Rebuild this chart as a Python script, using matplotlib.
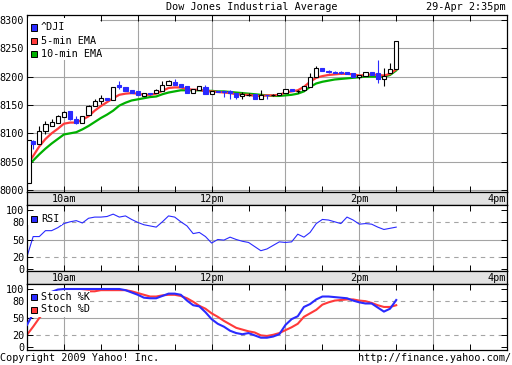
import numpy as np
import matplotlib.pyplot as plt
from matplotlib.patches import Rectangle

W, H = 512, 365
plt.rcParams['font.family'] = 'DejaVu Sans Mono'
plt.rcParams['font.size'] = 7.3

# 5-minute bars, minutes after 9:30
minutes = np.arange(0, 305, 5)

opens = [8013, 8087, 8081, 8105, 8113, 8118, 8128, 8139, 8126, 8118,
         8132, 8148, 8157, 8163, 8159, 8186, 8182, 8176, 8175, 8166,
         8170, 8172, 8175, 8186, 8190, 8187, 8183, 8172, 8176, 8181,
         8169, 8175, 8174, 8175, 8171, 8166, 8168, 8169, 8161, 8168,
         8168, 8168, 8171, 8178, 8175, 8176, 8182, 8199, 8216, 8209,
         8208, 8208, 8209, 8206, 8199, 8202, 8209, 8206, 8196, 8206,
         8213]
highs = [8088, 8088, 8113, 8122, 8125, 8132, 8139, 8139, 8131, 8131,
         8150, 8160, 8168, 8163, 8182, 8192, 8182, 8176, 8175, 8171,
         8172, 8179, 8193, 8194, 8196, 8187, 8183, 8179, 8183, 8185,
         8175, 8175, 8175, 8177, 8171, 8173, 8172, 8169, 8177, 8168,
         8169, 8171, 8178, 8178, 8177, 8184, 8206, 8218, 8216, 8211,
         8210, 8210, 8209, 8206, 8203, 8208, 8209, 8229, 8216, 8224,
         8263]
lows = [8013, 8072, 8081, 8099, 8113, 8118, 8128, 8123, 8116, 8118,
        8132, 8148, 8152, 8159, 8159, 8178, 8175, 8171, 8167, 8166,
        8168, 8172, 8175, 8186, 8185, 8181, 8172, 8172, 8176, 8169,
        8169, 8173, 8164, 8160, 8160, 8160, 8166, 8161, 8161, 8161,
        8166, 8168, 8171, 8175, 8172, 8174, 8182, 8199, 8210, 8206,
        8206, 8205, 8204, 8199, 8195, 8202, 8203, 8188, 8184, 8206,
        8213]
closes = [8088, 8081, 8105, 8116, 8120, 8130, 8137, 8125, 8118, 8131,
          8148, 8157, 8163, 8159, 8181, 8181, 8175, 8171, 8167, 8171,
          8169, 8176, 8186, 8192, 8185, 8181, 8172, 8179, 8183, 8169,
          8175, 8173, 8173, 8172, 8165, 8169, 8168, 8161, 8167, 8167,
          8168, 8171, 8178, 8175, 8175, 8184, 8199, 8216, 8210, 8208,
          8207, 8206, 8204, 8199, 8203, 8208, 8203, 8196, 8201, 8213,
          8263]
ema5 = [8045, 8060, 8077, 8090, 8100, 8108, 8117, 8119, 8119, 8124,
        8130, 8140, 8148, 8155, 8162, 8168, 8170, 8171, 8170, 8168,
        8168, 8170, 8175, 8180, 8181, 8181, 8178, 8177, 8177, 8174,
        8174, 8173, 8172, 8171, 8169, 8168, 8168, 8166, 8166, 8167,
        8167, 8168, 8172, 8174, 8176, 8182, 8191, 8198, 8201, 8203,
        8204, 8205, 8205, 8204, 8202, 8203, 8204, 8203, 8202, 8205,
        8213]
ema10 = [8042, 8052, 8063, 8073, 8082, 8090, 8098, 8100, 8102, 8107,
         8113, 8120, 8127, 8133, 8140, 8149, 8154, 8158, 8160, 8162,
         8164, 8165, 8169, 8172, 8174, 8176, 8176, 8176, 8176, 8175,
         8175, 8174, 8174, 8173, 8172, 8171, 8170, 8169, 8168, 8167,
         8166, 8166, 8167, 8168, 8170, 8174, 8182, 8188, 8191, 8193,
         8195, 8196, 8197, 8198, 8199, 8200, 8200, 8200, 8200, 8203,
         8211]
rsi = [21, 55, 55, 65, 65, 70, 77, 80, 82, 78,
       86, 88, 88, 89, 93, 88, 90, 84, 79, 75,
       73, 71, 80, 90, 88, 80, 73, 60, 62, 55,
       44, 50, 49, 54, 50, 47, 45, 38, 31, 34,
       40, 46, 45, 46, 59, 54, 62, 77, 84, 83,
       80, 77, 88, 83, 76, 77, 76, 71, 67, 69,
       71]
stoch_k = [38, 58, 75, 88, 95, 99, 100, 100, 100, 100,
           100, 100, 100, 100, 100, 100, 98, 94, 90, 85,
           84, 84, 88, 92, 92, 90, 80, 72, 70, 60,
           48, 40, 35, 28, 24, 22, 24, 20, 16, 16,
           18, 22, 38, 48, 53, 69, 74, 82, 87, 87,
           86, 85, 84, 80, 77, 75, 75, 68, 61, 66,
           81]
stoch_d = [21, 35, 50, 62, 75, 85, 90, 93, 94, 95,
           96, 96, 98, 98, 98, 98, 98, 96, 93, 90,
           87, 87, 89, 90, 90, 88, 84, 78, 71, 66,
           58, 52, 45, 39, 33, 30, 27, 25, 20, 19,
           21, 24, 29, 34, 40, 52, 58, 64, 73, 77,
           80, 81, 82, 82, 80, 79, 76, 72, 69, 69,
           72]

price_ticks = [8000, 8050, 8100, 8150, 8200, 8250, 8300]
ind_ticks = [0, 20, 50, 80, 100]
hours = [30, 90, 150, 210, 270, 330]
half_hours = [60, 120, 180, 240, 300, 360]
band_labels = [(30, '10am'), (150, '12pm'), (270, '2pm')]

BLUE = '#2a2aff'
RED = '#ff3a3a'
GREEN = '#00b000'
GRID = '#a4a4a4'


def px_rect(x0, y0, x1, y1):
    return [x0 / W, 1 - y1 / H, (x1 - x0) / W, (y1 - y0) / H]


def fig_box(x0, y0, x1, y1, **kw):
    fig.add_artist(Rectangle((x0 / W, 1 - y1 / H), (x1 - x0) / W,
                             (y1 - y0) / H, transform=fig.transFigure, **kw))


def legend(x, rows, box):
    fig_box(*box, facecolor='white', edgecolor='none', zorder=5)
    for y, color, label in rows:
        fig_box(x, y - 3, x + 6, y + 3, facecolor=color, edgecolor='black',
                lw=0.7, zorder=6)
        fig.text((x + 10) / W, 1 - y / H, label, va='center', ha='left',
                 zorder=7)


def setup(ax, ylim, yticks):
    ax.set_xlim(0, 390)
    ax.set_ylim(*ylim)
    ax.set_xticks(hours)
    ax.set_xticks(half_hours, minor=True)
    ax.set_xticklabels([])
    ax.set_yticks(yticks)
    ax.tick_params(which='both', direction='in', length=4, width=0.7,
                   top=True, bottom=True, left=True, right=True, pad=2)
    ax.tick_params(axis='y', labelsize=7.3)
    for x in hours:
        ax.axvline(x, color=GRID, lw=0.8, zorder=0)
    for s in ax.spines.values():
        s.set_linewidth(0.9)


def band(rect):
    b = fig.add_axes(rect)
    b.set_xlim(0, 390)
    b.set_ylim(0, 1)
    b.set_facecolor('#e2e2e2')
    b.set_xticks([])
    b.set_yticks([])
    for x, lab in band_labels:
        b.text(x, 0.45, lab, ha='center', va='center')
    b.text(389, 0.45, '4pm', ha='right', va='center')
    for s in b.spines.values():
        s.set_linewidth(0.9)


fig = plt.figure(figsize=(W / 100, H / 100), dpi=100)

# price panel
ax_p = fig.add_axes(px_rect(27, 15, 507, 192))
setup(ax_p, (7996.5, 8308.8), price_ticks)
for y in price_ticks:
    ax_p.axhline(y, color=GRID, lw=0.8, zorder=0)

ax_p.plot(minutes, ema10, color=GREEN, lw=1.6, zorder=2)
ax_p.plot(minutes, ema5, color=RED, lw=1.6, zorder=2)

o = np.array(opens)
c = np.array(closes)
w = 3.4
up = c > o
down = c < o
flat = c == o
lefts = np.maximum(minutes - w / 2, 0)
body_lo = np.minimum(o, c)
body_h = np.maximum(np.abs(c - o), 1.5)

ax_p.vlines(minutes[up | flat], np.array(lows)[up | flat],
            np.array(highs)[up | flat], color='black', lw=0.8, zorder=3)
ax_p.vlines(minutes[down], np.array(lows)[down], np.array(highs)[down],
            color=BLUE, lw=0.8, zorder=3)
ax_p.bar(lefts[up], body_h[up], width=w, bottom=body_lo[up], align='edge',
         facecolor='white', edgecolor='black', lw=0.8, zorder=4)
ax_p.bar(lefts[down], body_h[down], width=w, bottom=body_lo[down],
         align='edge', facecolor=BLUE, edgecolor=BLUE, lw=0.8, zorder=4)
ax_p.hlines(c[flat], lefts[flat], lefts[flat] + w, color='black', lw=0.9,
            zorder=4)

band(px_rect(27, 192, 507, 205))

# RSI panel
ax_r = fig.add_axes(px_rect(27, 205, 507, 271))
setup(ax_r, (-3.4, 108.5), ind_ticks)
ax_r.axhline(50, color=GRID, lw=0.8, zorder=0)
for y in (20, 80):
    ax_r.axhline(y, color=GRID, lw=0.8, ls=(0, (4, 4)), zorder=0)
ax_r.plot(minutes, rsi, color=BLUE, lw=0.8, zorder=2)

band(px_rect(27, 271, 507, 284))

# stochastic panel
ax_s = fig.add_axes(px_rect(27, 284, 507, 350))
setup(ax_s, (-5.2, 108.6), ind_ticks)
ax_s.axhline(50, color=GRID, lw=0.8, zorder=0)
for y in (20, 80):
    ax_s.axhline(y, color=GRID, lw=0.8, ls=(0, (4, 4)), zorder=0)
ax_s.plot(minutes, stoch_d, color=RED, lw=1.5, zorder=2)
ax_s.plot(minutes, stoch_k, color=BLUE, lw=1.5, zorder=3)

legend(31, [(27.5, BLUE, '^DJI'), (41, RED, '5-min EMA'),
            (54, GREEN, '10-min EMA')], (28, 18, 100, 60))
legend(31, [(218.5, BLUE, 'RSI')], (28, 212, 62, 225))
legend(31, [(296.5, BLUE, 'Stoch %K'), (309.5, RED, 'Stoch %D')],
       (28, 291, 90, 317))

fig.text(252 / W, 1 - 7 / H, 'Dow Jones Industrial Average', ha='center',
         va='center')
fig.text(506 / W, 1 - 7 / H, '29-Apr 2:35pm', ha='right', va='center')
fig.text(0, 1 - 358 / H, 'Copyright 2009 Yahoo! Inc.', ha='left',
         va='center')
fig.text(511 / W, 1 - 358 / H, 'http://finance.yahoo.com/', ha='right',
         va='center')

fig.savefig('out.png', dpi=100)
